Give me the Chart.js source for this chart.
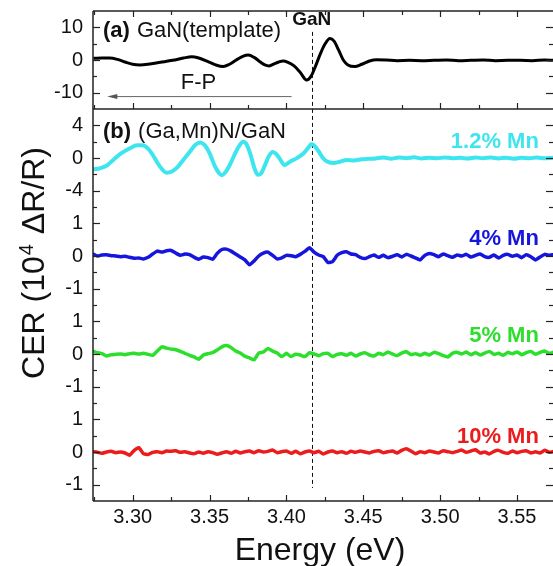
<!DOCTYPE html>
<html>
<head>
<meta charset="utf-8">
<title>CER spectra of GaN and (Ga,Mn)N</title>
<script src="https://cdn.jsdelivr.net/npm/chart.js@4.4.1/dist/chart.umd.min.js"></script>
<style>
  html, body { margin: 0; padding: 0; background: #fff; }
  #wrap { width: 553px; height: 566px; }
</style>
</head>
<body>
<div id="wrap"><canvas id="cer" width="553" height="566"></canvas></div>
<script>
// axis ranges and ticks
const xMin = 3.2742, xMax = 3.5734;
const xTicks = [3.275, 3.30, 3.325, 3.35, 3.375, 3.40, 3.425, 3.45, 3.475, 3.50, 3.525, 3.55];
const xLabels = [3.30, 3.35, 3.40, 3.45, 3.50, 3.55];
const gaNEnergy = 3.4165;

const ticksA = [-10, -5, 0, 5, 10];
const labelsA = [-10, 0, 10];
const ticksCyan = [-6, -4, -2, 0, 2, 4];
const labelsCyan = [-4, 0, 4];
const ticksMid = [-1.5, -1, -0.5, 0, 0.5, 1];
const ticksRed = [-1, -0.5, 0, 0.5, 1];
const labelsMid = [-1, 0, 1];

// (a) GaN template
const energyA = [3.2744, 3.2800, 3.2850, 3.2900, 3.2950, 3.3000, 3.3048, 3.3100, 3.3180, 3.3260,
  3.3330, 3.3384, 3.3430, 3.3490, 3.3540, 3.3589, 3.3630, 3.3680, 3.3720, 3.3752,
  3.3790, 3.3830, 3.3860, 3.3888, 3.3920, 3.3950, 3.3979, 3.4010, 3.4050, 3.4090,
  3.4131, 3.4160, 3.4190, 3.4220, 3.4250, 3.4283, 3.4310, 3.4340, 3.4370, 3.4400,
  3.4445, 3.4490, 3.4540, 3.4586, 3.4650, 3.4720, 3.4800, 3.4880, 3.4960, 3.5040,
  3.5120, 3.5200, 3.5280, 3.5360, 3.5440, 3.5520, 3.5600, 3.5680, 3.5734];
const cerA = [0.5, 0.6, 0.6, 0.2, -0.6, -1.3, -1.5, -1.3, -0.7, -0.1,
  0.6, 1.0, 0.6, -0.5, -1.5, -2.0, -1.3, 0.2, 1.2, 1.5,
  0.8, -0.6, -1.5, -1.8, -1.2, -0.6, -0.3, -0.7, -1.8, -3.8,
  -6.1, -5.0, -1.8, 1.8, 4.8, 6.6, 5.8, 3.0, 0.0, -1.5,
  -2.0, -1.3, -0.3, 0.1, 0.0, -0.2, -0.1, -0.2, -0.1, 0.0,
  -0.2, -0.1, 0.0, -0.2, -0.1, -0.1, -0.2, 0.0, -0.1];

// (b) 1.2% Mn
const energyCyan = [3.2744, 3.2790, 3.2830, 3.2870, 3.2920, 3.2982, 3.3030, 3.3065, 3.3100, 3.3130,
  3.3160, 3.3190, 3.3221, 3.3255, 3.3290, 3.3330, 3.3373, 3.3410, 3.3440, 3.3470,
  3.3500, 3.3530, 3.3560, 3.3580, 3.3605, 3.3633, 3.3660, 3.3690, 3.3719, 3.3740,
  3.3765, 3.3795, 3.3815, 3.3835, 3.3860, 3.3885, 3.3910, 3.3930, 3.3950, 3.3990,
  3.4023, 3.4066, 3.4110, 3.4140, 3.4164, 3.4185, 3.4210, 3.4235, 3.4261, 3.4304,
  3.4348, 3.4391, 3.4440, 3.4490, 3.4530, 3.4580, 3.4630, 3.4680, 3.4730, 3.4780,
  3.4830, 3.4880, 3.4930, 3.4980, 3.5030, 3.5080, 3.5130, 3.5180, 3.5230, 3.5280,
  3.5330, 3.5380, 3.5430, 3.5480, 3.5530, 3.5580, 3.5630, 3.5680, 3.5734];
const cerCyan = [-1.40, -1.25, -0.95, -0.30, 0.50, 1.20, 1.55, 1.55, 1.15, 0.40,
  -0.55, -1.35, -1.80, -1.65, -1.15, -0.20, 0.80, 1.65, 1.90, 1.55,
  0.60, -0.80, -1.80, -2.10, -1.70, -0.80, 0.30, 1.40, 2.00, 1.70,
  0.50, -1.40, -2.05, -1.90, -0.90, 0.20, 0.75, 0.55, 0.10, -0.85,
  -0.45, -0.05, 0.55, 1.20, 1.70, 1.45, 0.80, 0.05, -0.40, -0.60,
  -0.45, -0.25, -0.30, -0.15, -0.10, -0.05, 0.05, -0.08, 0.06, -0.02,
  0.08, -0.06, 0.04, -0.04, 0.07, -0.03, 0.02, -0.07, 0.05, -0.02,
  0.06, -0.05, 0.03, -0.08, 0.04, -0.02, 0.05, -0.04, 0.02];

// shared energy grid for the noisy spectra
const energyGrid = [3.274, 3.277, 3.280, 3.283, 3.286, 3.289, 3.292, 3.295, 3.298, 3.301,
  3.304, 3.307, 3.310, 3.313, 3.316, 3.319, 3.322, 3.325, 3.328, 3.331,
  3.334, 3.337, 3.340, 3.343, 3.346, 3.349, 3.352, 3.355, 3.358, 3.361,
  3.364, 3.367, 3.370, 3.373, 3.376, 3.379, 3.382, 3.385, 3.388, 3.391,
  3.394, 3.397, 3.400, 3.403, 3.406, 3.409, 3.412, 3.415, 3.418, 3.421,
  3.424, 3.427, 3.430, 3.433, 3.436, 3.439, 3.442, 3.445, 3.448, 3.451,
  3.454, 3.457, 3.460, 3.463, 3.466, 3.469, 3.472, 3.475, 3.478, 3.481,
  3.484, 3.487, 3.490, 3.493, 3.496, 3.499, 3.502, 3.505, 3.508, 3.511,
  3.514, 3.517, 3.520, 3.523, 3.526, 3.529, 3.532, 3.535, 3.538, 3.541,
  3.544, 3.547, 3.550, 3.553, 3.556, 3.559, 3.562, 3.565, 3.568, 3.571,
  3.574];

// 4% Mn
const cerBlue = [0.07, 0.00, 0.03, 0.04, 0.01, 0.00, -0.02, -0.01, -0.04, -0.07,
  -0.06, -0.09, -0.04, 0.06, 0.15, 0.12, 0.16, 0.17, 0.09, 0.02,
  0.06, 0.04, -0.04, -0.10, -0.03, -0.05, -0.10, 0.08, 0.20, 0.21,
  0.15, 0.06, -0.03, -0.12, -0.27, -0.15, 0.00, 0.09, 0.12, 0.02,
  -0.09, -0.06, 0.02, 0.01, -0.02, 0.05, 0.14, 0.25, 0.12, 0.03,
  -0.02, -0.20, -0.17, 0.02, 0.10, 0.13, 0.06, 0.04, -0.04, -0.08,
  -0.02, 0.03, -0.04, 0.02, -0.05, -0.01, 0.04, -0.03, 0.05, 0.00,
  -0.06, -0.12, 0.02, 0.08, 0.04, -0.02, 0.06, 0.01, -0.04, 0.03,
  0.00, 0.05, -0.03, 0.02, 0.06, -0.02, -0.04, 0.03, -0.06, 0.02,
  0.05, -0.01, 0.03, -0.05, 0.04, -0.02, -0.12, -0.03, 0.05, 0.02,
  0.04];

// 5% Mn
const cerGreen = [0.09, 0.04, 0.01, -0.06, -0.02, -0.01, 0.00, -0.02, 0.01, 0.02,
  0.00, 0.02, -0.01, -0.04, 0.09, 0.22, 0.18, 0.15, 0.13, 0.08,
  0.02, -0.04, -0.09, -0.16, -0.03, 0.01, 0.04, 0.12, 0.22, 0.26,
  0.20, 0.09, 0.03, -0.07, -0.12, -0.18, 0.03, 0.06, 0.17, 0.09,
  0.03, -0.08, 0.02, -0.08, -0.01, -0.03, -0.08, 0.04, 0.00, -0.05,
  0.01, 0.02, -0.08, -0.01, 0.01, -0.04, 0.02, -0.06, 0.00, 0.04,
  -0.03, -0.06, 0.02, -0.02, 0.06, 0.00, -0.05, 0.03, 0.07, -0.02,
  0.01, -0.04, 0.02, -0.03, 0.05, 0.01, -0.05, -0.09, 0.02, 0.05,
  0.00, 0.06, -0.02, 0.04, -0.03, 0.03, 0.08, -0.01, 0.02, -0.04,
  0.05, 0.01, 0.06, -0.02, 0.04, 0.08, -0.01, 0.05, 0.09, 0.02,
  0.06];

// 10% Mn
const cerRed = [0.01, -0.01, -0.04, 0.00, 0.02, -0.02, 0.00, -0.03, -0.10, 0.05,
  0.13, -0.05, -0.08, -0.01, 0.01, -0.02, 0.03, 0.02, 0.04, -0.01,
  0.01, -0.03, -0.05, 0.00, -0.04, 0.01, -0.02, -0.07, -0.03, 0.01,
  -0.04, 0.02, -0.03, 0.01, 0.03, -0.02, 0.04, 0.00, 0.02, 0.06,
  -0.02, 0.01, 0.03, -0.04, 0.02, -0.05, 0.00, 0.03, -0.02, 0.02,
  -0.06, 0.00, 0.03, -0.02, 0.01, -0.04, 0.02, -0.01, 0.03, 0.00,
  -0.03, 0.02, 0.04, -0.02, 0.01, 0.03, -0.03, 0.05, 0.10, 0.03,
  -0.05, 0.01, -0.02, 0.03, 0.00, -0.03, 0.04, 0.01, -0.02, 0.02,
  0.06, -0.01, 0.03, 0.07, -0.03, 0.00, -0.06, 0.02, 0.05, -0.01,
  -0.04, 0.03, -0.02, 0.02, 0.04, -0.03, 0.01, -0.03, 0.05, -0.01,
  0.02];

const FONT = "'Liberation Sans', Arial, Helvetica, sans-serif";
Chart.defaults.font.family = FONT;
Chart.defaults.color = '#111';

const pts = (xs, ys) => xs.map((x, i) => ({ x: x, y: ys[i] }));
const hasVal = (list, v) => list.some(l => Math.abs(l - v) < 1e-9);

function yAxis(min, max, ticks, labels, weight) {
  return {
    type: 'linear',
    position: 'left',
    stack: 'panels',
    stackWeight: 3,
    weight: weight,
    min: min,
    max: max,
    afterBuildTicks: s => { s.ticks = ticks.map(v => ({ value: v })); },
    afterFit: s => { s.width = 93; s.paddingTop = 0; s.paddingBottom = 0; },
    grid: { display: false, drawTicks: false },
    border: { display: false },
    ticks: {
      autoSkip: false,
      padding: 10,
      font: { size: 20 },
      callback: v => hasVal(labels, v) ? String(v) : ''
    }
  };
}

function line(ctx, x1, y1, x2, y2) {
  ctx.beginPath();
  ctx.moveTo(x1, y1);
  ctx.lineTo(x2, y2);
  ctx.stroke();
}

const decor = {
  id: 'decor',
  beforeDatasetsDraw(chart) {
    const ctx = chart.ctx;
    const x = Math.round(chart.scales.x.getPixelForValue(gaNEnergy)) + 0.5;
    ctx.save();
    ctx.strokeStyle = '#111';
    ctx.lineWidth = 1;
    ctx.setLineDash([4, 3]);
    line(ctx, x, chart.scales.yA.getPixelForValue(8.6), x, chart.scales.yRed.getPixelForValue(-1.1));
    ctx.restore();
  },
  afterDraw(chart) {
    const ctx = chart.ctx;
    const area = chart.chartArea;
    const sx = chart.scales.x;
    const yA = chart.scales.yA;
    ctx.save();

    // frame
    ctx.strokeStyle = '#222';
    ctx.lineWidth = 1.5;
    line(ctx, area.left, area.top, area.left, area.bottom);
    line(ctx, area.left, area.top, area.right, area.top);
    line(ctx, area.left, yA.bottom, area.right, yA.bottom);
    line(ctx, area.left, area.bottom, area.right, area.bottom);

    // inward tick marks, mirrored on the right
    ctx.lineWidth = 1.2;
    ['yA', 'yCyan', 'yBlue', 'yGreen', 'yRed'].forEach(id => {
      const s = chart.scales[id];
      s.ticks.forEach(t => {
        const y = Math.round(s.getPixelForValue(t.value)) + 0.5;
        const len = t.label ? 7 : 4;
        line(ctx, area.left, y, area.left + len, y);
        line(ctx, area.right, y, area.right - len, y);
      });
    });
    sx.ticks.forEach(t => {
      const x = Math.round(sx.getPixelForValue(t.value)) + 0.5;
      const len = t.label ? 6 : 4;
      line(ctx, x, area.bottom, x, area.bottom - len);
      line(ctx, x, yA.bottom, x, yA.bottom - len);
      line(ctx, x, area.top, x, area.top + len);
    });

    // F-P arrow
    const ay = yA.getPixelForValue(-11.2);
    const tip = sx.getPixelForValue(3.2835);
    ctx.strokeStyle = '#666';
    ctx.fillStyle = '#555';
    ctx.lineWidth = 1;
    line(ctx, sx.getPixelForValue(3.4034), ay, tip + 6, ay);
    ctx.beginPath();
    ctx.moveTo(tip, ay);
    ctx.lineTo(tip + 10, ay - 2.5);
    ctx.lineTo(tip + 10, ay + 2.5);
    ctx.closePath();
    ctx.fill();

    ctx.fillStyle = '#111';
    ctx.textBaseline = 'alphabetic';
    ctx.textAlign = 'center';
    ctx.font = '22px ' + FONT;
    ctx.fillText('F-P', sx.getPixelForValue(3.3428), yA.getPixelForValue(-8.8));
    ctx.font = 'bold 19px ' + FONT;
    ctx.fillText('GaN', sx.getPixelForValue(gaNEnergy), yA.getPixelForValue(10.7));

    // panel captions
    ctx.textAlign = 'left';
    const caption = (tag, text, y) => {
      ctx.font = 'bold 22px ' + FONT;
      ctx.fillText(tag, area.left + 10, y);
      const w = ctx.measureText(tag).width;
      ctx.font = '22px ' + FONT;
      ctx.fillText(text, area.left + 10 + w + 7, y);
    };
    caption('(a)', 'GaN(template)', yA.getPixelForValue(7.0));
    caption('(b)', '(Ga,Mn)N/GaN', chart.scales.yCyan.getPixelForValue(2.4));

    // series labels
    ctx.textAlign = 'right';
    ctx.font = 'bold 22px ' + FONT;
    const lx = sx.getPixelForValue(3.5642);
    [['1.2% Mn', '#3de6ee', 'yCyan', 1.22],
     ['4% Mn', '#1515dd', 'yBlue', 0.33],
     ['5% Mn', '#2ddf2d', 'yGreen', 0.38],
     ['10% Mn', '#ec1c1c', 'yRed', 0.28]].forEach(([txt, col, id, v]) => {
      ctx.fillStyle = col;
      ctx.fillText(txt, lx, chart.scales[id].getPixelForValue(v));
    });

    // axis titles
    ctx.fillStyle = '#111';
    ctx.textAlign = 'center';
    ctx.font = '32px ' + FONT;
    ctx.fillText('Energy (eV)', (area.left + area.right) / 2 - 3, 560);

    ctx.translate(44, (area.top + area.bottom) / 2 + 7);
    ctx.rotate(-Math.PI / 2);
    ctx.textAlign = 'left';
    const p1 = 'CER (10', p2 = '4', p3 = ' \u0394R/R)';
    ctx.font = '32px ' + FONT;
    const w1 = ctx.measureText(p1).width, w3 = ctx.measureText(p3).width;
    ctx.font = '20px ' + FONT;
    const w2 = ctx.measureText(p2).width;
    const x0 = -(w1 + w2 + w3 + 2) / 2;
    ctx.font = '32px ' + FONT;
    ctx.fillText(p1, x0, 0);
    ctx.font = '20px ' + FONT;
    ctx.fillText(p2, x0 + w1 + 1, -11);
    ctx.font = '32px ' + FONT;
    ctx.fillText(p3, x0 + w1 + w2 + 2, 0);
    ctx.restore();
  }
};

const smooth = { pointRadius: 0, cubicInterpolationMode: 'monotone', fill: false };
const noisy = { pointRadius: 0, tension: 0.15, fill: false };

new Chart(document.getElementById('cer'), {
  type: 'line',
  data: {
    datasets: [
      Object.assign({ label: 'GaN(template)', data: pts(energyA, cerA), yAxisID: 'yA', borderColor: '#000', borderWidth: 3 }, smooth),
      Object.assign({ label: '1.2% Mn', data: pts(energyCyan, cerCyan), yAxisID: 'yCyan', borderColor: '#3de6ee', borderWidth: 4 }, smooth),
      Object.assign({ label: '4% Mn', data: pts(energyGrid, cerBlue), yAxisID: 'yBlue', borderColor: '#1515dd', borderWidth: 3.5 }, noisy),
      Object.assign({ label: '5% Mn', data: pts(energyGrid, cerGreen), yAxisID: 'yGreen', borderColor: '#2ddf2d', borderWidth: 3.5 }, noisy),
      Object.assign({ label: '10% Mn', data: pts(energyGrid, cerRed), yAxisID: 'yRed', borderColor: '#ec1c1c', borderWidth: 3.5 }, noisy)
    ]
  },
  options: {
    responsive: false,
    animation: false,
    devicePixelRatio: 1,
    layout: { padding: { top: 11, right: 0, bottom: 0, left: 0 } },
    plugins: { legend: { display: false }, tooltip: { enabled: false } },
    scales: {
      x: {
        type: 'linear',
        position: 'bottom',
        min: xMin,
        max: xMax,
        afterBuildTicks: s => { s.ticks = xTicks.map(v => ({ value: v })); },
        afterFit: s => { s.height = 65; s.paddingLeft = 0; s.paddingRight = 0; },
        grid: { display: false, drawTicks: false },
        border: { display: false },
        ticks: {
          autoSkip: false,
          maxRotation: 0,
          padding: 4,
          font: { size: 20 },
          callback: v => hasVal(xLabels, v) ? v.toFixed(2) : ''
        }
      },
      yA: yAxis(-15, 15, ticksA, labelsA, 5),
      yCyan: yAxis(-6, 6, ticksCyan, labelsCyan, 4),
      yBlue: yAxis(-1.5, 1.5, ticksMid, labelsMid, 3),
      yGreen: yAxis(-1.5, 1.5, ticksMid, labelsMid, 2),
      yRed: yAxis(-1.5, 1.5, ticksRed, labelsMid, 1)
    }
  },
  plugins: [decor]
});
</script>
</body>
</html>
